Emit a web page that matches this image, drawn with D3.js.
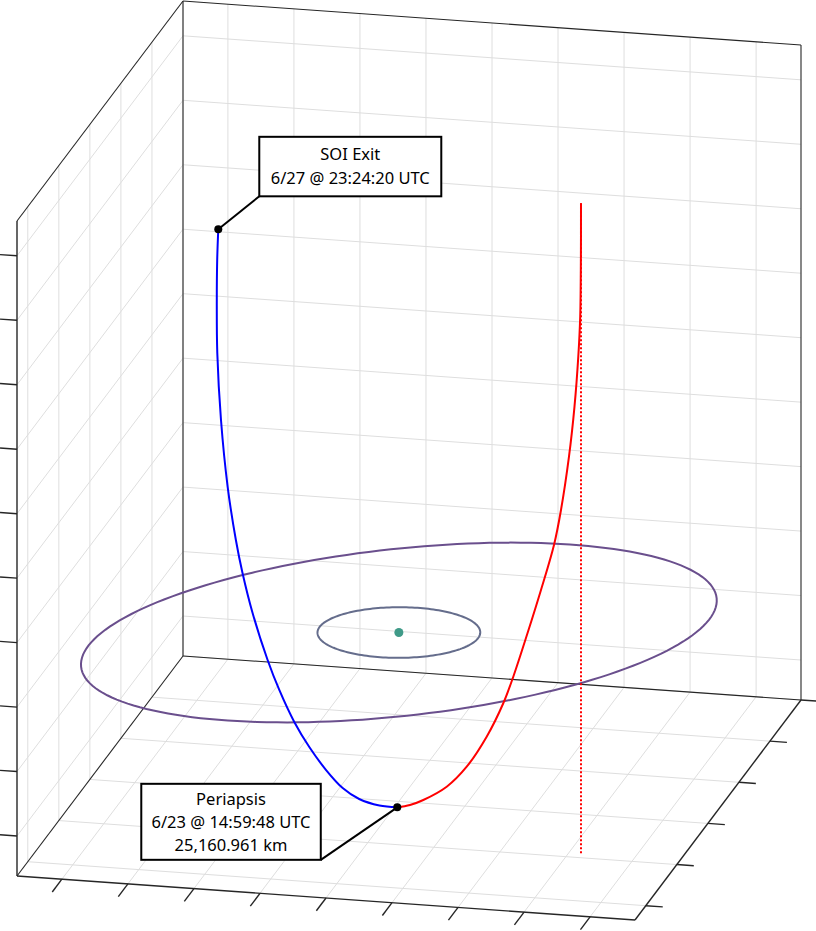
<!DOCTYPE html>
<html><head><meta charset="utf-8">
<script src="https://cdn.jsdelivr.net/npm/d3@7"></script>
<style>body{margin:0;background:#fff} svg{display:block}</style>
</head><body><svg id="c" width="816" height="931"></svg>
<script>
// ---------- data (thousand km, Moon-centred frame) ----------
const xDomain = [-93.6, 93.6];
const yDomain = [-93.9, 120];
const zDomain = [-26.2, 75.4];
const xTicks = [-80, -60, -40, -20, 0, 20, 40, 60, 80];
const yTicks = [-80, -40, 0, 40, 80, 120];
const zTicks = [-20, -10, 0, 10, 20, 30, 40, 50, 60, 70];

// outbound leg: periapsis -> SOI exit (blue)
const outboundLeg = [
  [7.98, -36, -21.08], [2.56, -36, -21.00], [-3.56, -36, -20.21], [-8.56, -36, -18.69],
  [-13.58, -36, -16.08], [-18.67, -36, -12.70], [-23.22, -36, -8.98], [-27.76, -36, -4.18],
  [-31.30, -36, 0.34], [-35.85, -36, 7.46], [-38.97, -36, 13.71], [-40.91, -36, 18.60],
  [-43.39, -36, 26.73], [-45.42, -36, 37.05], [-46.54, -36, 47.40], [-46.69, -36, 55.62],
  [-46.57, -36, 61.83], [-46.24, -36, 66.60]
];
// other branch: periapsis -> top (red)
const otherLeg = [
  [7.98, -36, -21.08], [11.83, -36, -20.58], [15.86, -36, -19.66], [22.95, -36, -17.34],
  [29.01, -36, -14.01], [35.06, -36, -9.14], [40.09, -36, -3.77], [43.12, -36, 0.46],
  [47.42, -36, 7.35], [51.51, -36, 14.22], [55.45, -36, 21.34], [57.57, -36, 26.85],
  [59.99, -36, 35.20], [61.66, -36, 43.02], [62.81, -36, 50.82], [63.39, -36, 57.04],
  [63.60, -36, 66.36], [63.63, -36, 74.64]
];
const dropLine = [[63.63, -36, 74.64], [63.63, -36, -26.2]];
const moonCenter = [0, 0, 0];
const innerCircleRadius = 24;
const outerOrbit = { a: 104.4, b: 71.5, angleDeg: 50.4 };
const periapsisPoint = [7.98, -36, -21.08];
const soiExitPoint = [-46.24, -36, 66.60];
const soiLabel = ["SOI Exit", "6/27 @ 23:24:20 UTC"];
const periLabel = ["Periapsis", "6/23 @ 14:59:48 UTC", "25,160.961 km"];

// ---------- projection ----------
const sx = d3.scaleLinear().domain(xDomain).range([0, 1]);
const sy = d3.scaleLinear().domain(yDomain).range([0, 1]);
const sz = d3.scaleLinear().domain(zDomain).range([0, 1]);
const O = [17, 876], VX = [618, 44], VY = [166, -220], VZ = [0, -655];
function P(p) {
  const a = sx(p[0]), b = sy(p[1]), c = sz(p[2]);
  return [O[0] + a * VX[0] + b * VY[0] + c * VZ[0], O[1] + a * VX[1] + b * VY[1] + c * VZ[1]];
}
const [x0, x1] = xDomain, [y0, y1] = yDomain, [z0, z1] = zDomain;

const svg = d3.select("#c");
const gGrid = svg.append("g").attr("stroke", "#dedede").attr("stroke-width", 1).attr("fill", "none");
function seg(g, a, b) { const A = P(a), B = P(b); g.append("line").attr("x1", A[0]).attr("y1", A[1]).attr("x2", B[0]).attr("y2", B[1]); }

// back wall (y = y1)
xTicks.forEach(x => seg(gGrid, [x, y1, z0], [x, y1, z1]));
zTicks.forEach(z => seg(gGrid, [x0, y1, z], [x1, y1, z]));
// left wall (x = x0)
yTicks.forEach(y => seg(gGrid, [x0, y, z0], [x0, y, z1]));
zTicks.forEach(z => seg(gGrid, [x0, y0, z], [x0, y1, z]));
// floor (z = z0)
xTicks.forEach(x => seg(gGrid, [x, y0, z0], [x, y1, z0]));
yTicks.forEach(y => seg(gGrid, [x0, y, z0], [x1, y, z0]));

// box edges
const gBox = svg.append("g").attr("stroke", "#262626").attr("stroke-width", 1.1).attr("fill", "none");
[
  [[x0, y1, z0], [x0, y1, z1]], [[x1, y1, z0], [x1, y1, z1]], [[x0, y1, z1], [x1, y1, z1]],
  [[x0, y0, z1], [x0, y1, z1]], [[x0, y1, z0], [x1, y1, z0]], [[x0, y1, z0], [x0, y0, z0]]
].forEach(e => seg(gBox, e[0], e[1]));
const gAx = svg.append("g").attr("stroke", "#262626").attr("stroke-width", 1.4).attr("fill", "none");
seg(gAx, [x0, y0, z0], [x0, y0, z1]);
seg(gAx, [x0, y0, z0], [x1, y0, z0]);
seg(gAx, [x1, y0, z0], [x1, y1, z0]);

// ticks
function unit(v) { const l = Math.hypot(v[0], v[1]); return [v[0] / l, v[1] / l]; }
const uX = unit(VX), uY = unit(VY);
function tick(p, dir, len) { const A = P(p); gAx.append("line").attr("x1", A[0]).attr("y1", A[1]).attr("x2", A[0] + dir[0] * len).attr("y2", A[1] + dir[1] * len); }
zTicks.forEach(z => tick([x0, y0, z], [-uX[0], -uX[1]], 17));
xTicks.forEach(x => tick([x, y0, z0], [-uY[0], -uY[1]], 16));
yTicks.forEach(y => tick([x1, y, z0], uX, 17));

// ---------- data marks ----------
const line = d3.line().curve(d3.curveCatmullRom.alpha(0.5));
const closed = d3.line().curve(d3.curveLinearClosed);
const angles = d3.range(0, 360, 2).map(d => d * Math.PI / 180);

const th = outerOrbit.angleDeg * Math.PI / 180;
const outerPts = angles.map(t => P([
  moonCenter[0] + outerOrbit.a * Math.cos(t) * Math.cos(th) - outerOrbit.b * Math.sin(t) * Math.sin(th),
  moonCenter[1] + outerOrbit.a * Math.cos(t) * Math.sin(th) + outerOrbit.b * Math.sin(t) * Math.cos(th),
  moonCenter[2]]));
const innerPts = angles.map(t => P([
  moonCenter[0] + innerCircleRadius * Math.cos(t),
  moonCenter[1] + innerCircleRadius * Math.sin(t),
  moonCenter[2]]));

svg.append("path").attr("d", closed(innerPts)).attr("fill", "none").attr("stroke", "#656d8c").attr("stroke-width", 2);
svg.append("path").attr("d", closed(outerPts)).attr("fill", "none").attr("stroke", "#6a4f8d").attr("stroke-width", 2);
const mc = P(moonCenter);
svg.append("circle").attr("cx", mc[0]).attr("cy", mc[1]).attr("r", 4.5).attr("fill", "#3f9a88");

svg.append("path").attr("d", line(dropLine.map(P))).attr("fill", "none").attr("stroke", "#ff0000")
  .attr("stroke-width", 2).attr("stroke-dasharray", "2,2");
svg.append("path").attr("d", line(otherLeg.map(P))).attr("fill", "none").attr("stroke", "#ff0000").attr("stroke-width", 2);
svg.append("path").attr("d", line(outboundLeg.map(P))).attr("fill", "none").attr("stroke", "#0000ff").attr("stroke-width", 2);

// ---------- callouts ----------
function callout(pt, box, corner, lines, firstBase, lh) {
  const A = P(pt);
  const bx = A[0] + box[0], by = A[1] + box[1];
  const cx = corner === "bl" ? bx : bx + box[2];
  const cy = by + box[3];
  svg.append("line").attr("x1", A[0]).attr("y1", A[1]).attr("x2", cx).attr("y2", cy)
    .attr("stroke", "#000").attr("stroke-width", 2);
  svg.append("rect").attr("x", bx).attr("y", by).attr("width", box[2]).attr("height", box[3])
    .attr("fill", "#fff").attr("stroke", "#000").attr("stroke-width", 2);
  lines.forEach((t, i) => svg.append("text").attr("x", bx + box[2] / 2).attr("y", by + firstBase + i * lh)
    .attr("text-anchor", "middle").attr("font-family", "'Noto Sans', 'Open Sans', sans-serif")
    .attr("font-size", 16.5).attr("fill", "#000").text(t));
  svg.append("circle").attr("cx", A[0]).attr("cy", A[1]).attr("r", 4).attr("fill", "#000");
}
callout(soiExitPoint, [41, -92.5, 182, 59.5], "bl", soiLabel, 23, 24);
callout(periapsisPoint, [-256, -23.5, 179.5, 76], "br", periLabel, 21.5, 23);
</script></body></html>
